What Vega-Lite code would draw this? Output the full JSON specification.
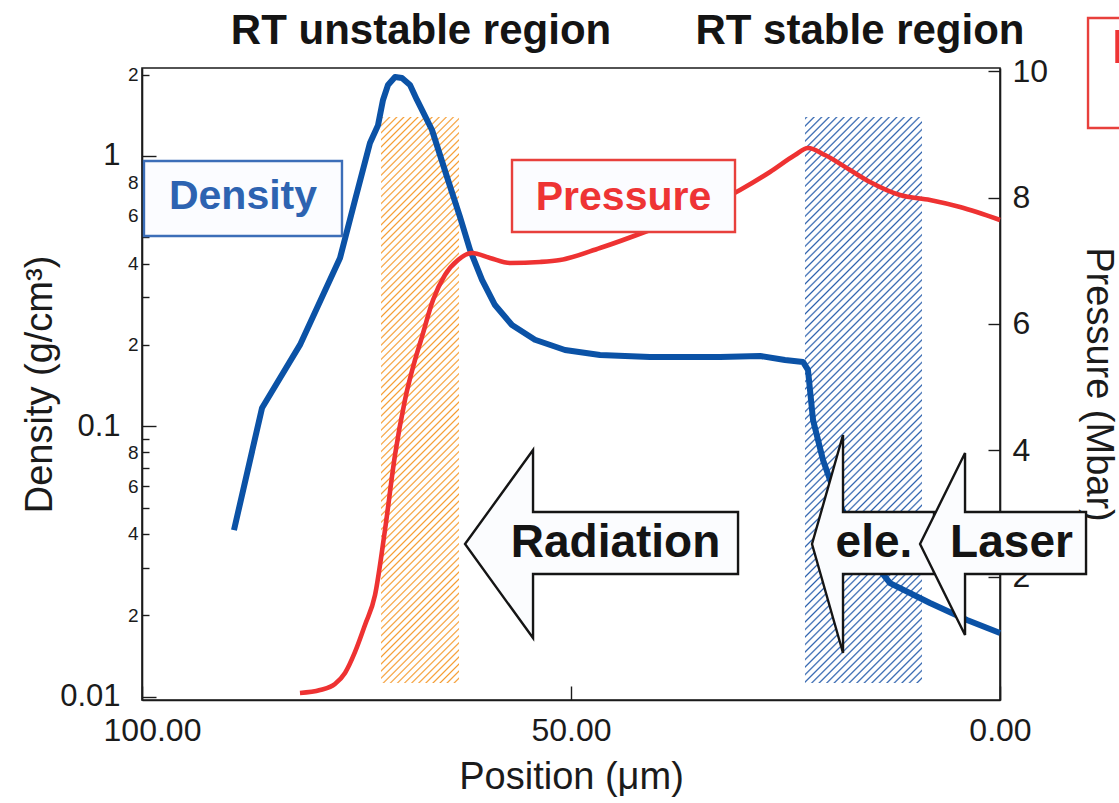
{
  "$schema": "https://vega.github.io/schema/vega-lite/v6.json",
  "width": 858,
  "height": 632,
  "autosize": "none",
  "padding": {"left": 142, "top": 68, "right": 119, "bottom": 103},
  "background": "#ffffff",
  "config": {
    "font": "Liberation Sans",
    "view": {"stroke": "#1b1b1b", "strokeWidth": 1.6},
    "axis": {
      "grid": false,
      "domainColor": "#1b1b1b",
      "domainWidth": 1.6,
      "tickColor": "#1b1b1b",
      "tickWidth": 1.4,
      "labelColor": "#1b1b1b",
      "titleColor": "#1b1b1b",
      "labelFont": "Liberation Sans",
      "titleFont": "Liberation Sans",
      "titleFontWeight": "normal",
      "titleFontSize": 38,
      "labelOverlap": false,
      "labelBound": false,
      "labelFlush": false
    },
    "text": {"font": "Liberation Sans"}
  },
  "resolve": {"scale": {"y": "independent"}},
  "layer": [
    {
      "layer": [
        {
          "data": {"values": [{"region": "RT unstable", "from": 72.14, "to": 63.05, "top": 1.394, "bottom": 0.01123}]},
          "mark": {
            "type": "rect",
            "fill": {
              "gradient": "linear", "x1": 0, "y1": 0, "x2": 0.15388, "y2": 1.11662,
              "stops": [
{"offset":0,"color":"#f59b2f00"},{"offset":0.0025,"color":"#f59b2f"},{"offset":0.005,"color":"#f59b2f00"},
{"offset":0.011,"color":"#f59b2f00"},{"offset":0.0135,"color":"#f59b2f"},{"offset":0.016,"color":"#f59b2f00"},
{"offset":0.022,"color":"#f59b2f00"},{"offset":0.0245,"color":"#f59b2f"},{"offset":0.027,"color":"#f59b2f00"},
{"offset":0.033,"color":"#f59b2f00"},{"offset":0.0355,"color":"#f59b2f"},{"offset":0.038,"color":"#f59b2f00"},
{"offset":0.044,"color":"#f59b2f00"},{"offset":0.0465,"color":"#f59b2f"},{"offset":0.049,"color":"#f59b2f00"},
{"offset":0.055,"color":"#f59b2f00"},{"offset":0.0575,"color":"#f59b2f"},{"offset":0.06,"color":"#f59b2f00"},
{"offset":0.066,"color":"#f59b2f00"},{"offset":0.0685,"color":"#f59b2f"},{"offset":0.071,"color":"#f59b2f00"},
{"offset":0.077,"color":"#f59b2f00"},{"offset":0.0795,"color":"#f59b2f"},{"offset":0.082,"color":"#f59b2f00"},
{"offset":0.088,"color":"#f59b2f00"},{"offset":0.0905,"color":"#f59b2f"},{"offset":0.093,"color":"#f59b2f00"},
{"offset":0.099,"color":"#f59b2f00"},{"offset":0.1015,"color":"#f59b2f"},{"offset":0.104,"color":"#f59b2f00"},
{"offset":0.11,"color":"#f59b2f00"},{"offset":0.1125,"color":"#f59b2f"},{"offset":0.115,"color":"#f59b2f00"},
{"offset":0.121,"color":"#f59b2f00"},{"offset":0.1235,"color":"#f59b2f"},{"offset":0.126,"color":"#f59b2f00"},
{"offset":0.132,"color":"#f59b2f00"},{"offset":0.1345,"color":"#f59b2f"},{"offset":0.137,"color":"#f59b2f00"},
{"offset":0.143,"color":"#f59b2f00"},{"offset":0.1455,"color":"#f59b2f"},{"offset":0.148,"color":"#f59b2f00"},
{"offset":0.154,"color":"#f59b2f00"},{"offset":0.1565,"color":"#f59b2f"},{"offset":0.159,"color":"#f59b2f00"},
{"offset":0.165,"color":"#f59b2f00"},{"offset":0.1675,"color":"#f59b2f"},{"offset":0.17,"color":"#f59b2f00"},
{"offset":0.176,"color":"#f59b2f00"},{"offset":0.1785,"color":"#f59b2f"},{"offset":0.181,"color":"#f59b2f00"},
{"offset":0.187,"color":"#f59b2f00"},{"offset":0.1895,"color":"#f59b2f"},{"offset":0.192,"color":"#f59b2f00"},
{"offset":0.198,"color":"#f59b2f00"},{"offset":0.2005,"color":"#f59b2f"},{"offset":0.203,"color":"#f59b2f00"},
{"offset":0.209,"color":"#f59b2f00"},{"offset":0.2115,"color":"#f59b2f"},{"offset":0.214,"color":"#f59b2f00"},
{"offset":0.22,"color":"#f59b2f00"},{"offset":0.2225,"color":"#f59b2f"},{"offset":0.225,"color":"#f59b2f00"},
{"offset":0.231,"color":"#f59b2f00"},{"offset":0.2335,"color":"#f59b2f"},{"offset":0.236,"color":"#f59b2f00"},
{"offset":0.242,"color":"#f59b2f00"},{"offset":0.2445,"color":"#f59b2f"},{"offset":0.247,"color":"#f59b2f00"},
{"offset":0.253,"color":"#f59b2f00"},{"offset":0.2555,"color":"#f59b2f"},{"offset":0.258,"color":"#f59b2f00"},
{"offset":0.264,"color":"#f59b2f00"},{"offset":0.2665,"color":"#f59b2f"},{"offset":0.269,"color":"#f59b2f00"},
{"offset":0.275,"color":"#f59b2f00"},{"offset":0.2775,"color":"#f59b2f"},{"offset":0.28,"color":"#f59b2f00"},
{"offset":0.286,"color":"#f59b2f00"},{"offset":0.2885,"color":"#f59b2f"},{"offset":0.291,"color":"#f59b2f00"},
{"offset":0.297,"color":"#f59b2f00"},{"offset":0.2995,"color":"#f59b2f"},{"offset":0.302,"color":"#f59b2f00"},
{"offset":0.308,"color":"#f59b2f00"},{"offset":0.3105,"color":"#f59b2f"},{"offset":0.313,"color":"#f59b2f00"},
{"offset":0.319,"color":"#f59b2f00"},{"offset":0.3215,"color":"#f59b2f"},{"offset":0.324,"color":"#f59b2f00"},
{"offset":0.33,"color":"#f59b2f00"},{"offset":0.3325,"color":"#f59b2f"},{"offset":0.335,"color":"#f59b2f00"},
{"offset":0.341,"color":"#f59b2f00"},{"offset":0.3435,"color":"#f59b2f"},{"offset":0.346,"color":"#f59b2f00"},
{"offset":0.352,"color":"#f59b2f00"},{"offset":0.3545,"color":"#f59b2f"},{"offset":0.357,"color":"#f59b2f00"},
{"offset":0.363,"color":"#f59b2f00"},{"offset":0.3655,"color":"#f59b2f"},{"offset":0.368,"color":"#f59b2f00"},
{"offset":0.374,"color":"#f59b2f00"},{"offset":0.3765,"color":"#f59b2f"},{"offset":0.379,"color":"#f59b2f00"},
{"offset":0.385,"color":"#f59b2f00"},{"offset":0.3875,"color":"#f59b2f"},{"offset":0.39,"color":"#f59b2f00"},
{"offset":0.396,"color":"#f59b2f00"},{"offset":0.3985,"color":"#f59b2f"},{"offset":0.401,"color":"#f59b2f00"},
{"offset":0.407,"color":"#f59b2f00"},{"offset":0.4095,"color":"#f59b2f"},{"offset":0.412,"color":"#f59b2f00"},
{"offset":0.418,"color":"#f59b2f00"},{"offset":0.4205,"color":"#f59b2f"},{"offset":0.423,"color":"#f59b2f00"},
{"offset":0.429,"color":"#f59b2f00"},{"offset":0.4315,"color":"#f59b2f"},{"offset":0.434,"color":"#f59b2f00"},
{"offset":0.44,"color":"#f59b2f00"},{"offset":0.4425,"color":"#f59b2f"},{"offset":0.445,"color":"#f59b2f00"},
{"offset":0.451,"color":"#f59b2f00"},{"offset":0.4535,"color":"#f59b2f"},{"offset":0.456,"color":"#f59b2f00"},
{"offset":0.462,"color":"#f59b2f00"},{"offset":0.4645,"color":"#f59b2f"},{"offset":0.467,"color":"#f59b2f00"},
{"offset":0.473,"color":"#f59b2f00"},{"offset":0.4755,"color":"#f59b2f"},{"offset":0.478,"color":"#f59b2f00"},
{"offset":0.484,"color":"#f59b2f00"},{"offset":0.4865,"color":"#f59b2f"},{"offset":0.489,"color":"#f59b2f00"},
{"offset":0.495,"color":"#f59b2f00"},{"offset":0.4975,"color":"#f59b2f"},{"offset":0.5,"color":"#f59b2f00"},
{"offset":0.506,"color":"#f59b2f00"},{"offset":0.5085,"color":"#f59b2f"},{"offset":0.511,"color":"#f59b2f00"},
{"offset":0.517,"color":"#f59b2f00"},{"offset":0.5195,"color":"#f59b2f"},{"offset":0.522,"color":"#f59b2f00"},
{"offset":0.528,"color":"#f59b2f00"},{"offset":0.5305,"color":"#f59b2f"},{"offset":0.533,"color":"#f59b2f00"},
{"offset":0.539,"color":"#f59b2f00"},{"offset":0.5415,"color":"#f59b2f"},{"offset":0.544,"color":"#f59b2f00"},
{"offset":0.55,"color":"#f59b2f00"},{"offset":0.5525,"color":"#f59b2f"},{"offset":0.555,"color":"#f59b2f00"},
{"offset":0.561,"color":"#f59b2f00"},{"offset":0.5635,"color":"#f59b2f"},{"offset":0.566,"color":"#f59b2f00"},
{"offset":0.572,"color":"#f59b2f00"},{"offset":0.5745,"color":"#f59b2f"},{"offset":0.577,"color":"#f59b2f00"},
{"offset":0.583,"color":"#f59b2f00"},{"offset":0.5855,"color":"#f59b2f"},{"offset":0.588,"color":"#f59b2f00"},
{"offset":0.594,"color":"#f59b2f00"},{"offset":0.5965,"color":"#f59b2f"},{"offset":0.599,"color":"#f59b2f00"},
{"offset":0.605,"color":"#f59b2f00"},{"offset":0.6075,"color":"#f59b2f"},{"offset":0.61,"color":"#f59b2f00"},
{"offset":0.616,"color":"#f59b2f00"},{"offset":0.6185,"color":"#f59b2f"},{"offset":0.621,"color":"#f59b2f00"},
{"offset":0.627,"color":"#f59b2f00"},{"offset":0.6295,"color":"#f59b2f"},{"offset":0.632,"color":"#f59b2f00"},
{"offset":0.638,"color":"#f59b2f00"},{"offset":0.6405,"color":"#f59b2f"},{"offset":0.643,"color":"#f59b2f00"},
{"offset":0.649,"color":"#f59b2f00"},{"offset":0.6515,"color":"#f59b2f"},{"offset":0.654,"color":"#f59b2f00"},
{"offset":0.66,"color":"#f59b2f00"},{"offset":0.6625,"color":"#f59b2f"},{"offset":0.665,"color":"#f59b2f00"},
{"offset":0.671,"color":"#f59b2f00"},{"offset":0.6735,"color":"#f59b2f"},{"offset":0.676,"color":"#f59b2f00"},
{"offset":0.682,"color":"#f59b2f00"},{"offset":0.6845,"color":"#f59b2f"},{"offset":0.687,"color":"#f59b2f00"},
{"offset":0.693,"color":"#f59b2f00"},{"offset":0.6955,"color":"#f59b2f"},{"offset":0.698,"color":"#f59b2f00"},
{"offset":0.704,"color":"#f59b2f00"},{"offset":0.7065,"color":"#f59b2f"},{"offset":0.709,"color":"#f59b2f00"},
{"offset":0.715,"color":"#f59b2f00"},{"offset":0.7175,"color":"#f59b2f"},{"offset":0.72,"color":"#f59b2f00"},
{"offset":0.726,"color":"#f59b2f00"},{"offset":0.7285,"color":"#f59b2f"},{"offset":0.731,"color":"#f59b2f00"},
{"offset":0.737,"color":"#f59b2f00"},{"offset":0.7395,"color":"#f59b2f"},{"offset":0.742,"color":"#f59b2f00"},
{"offset":0.748,"color":"#f59b2f00"},{"offset":0.7505,"color":"#f59b2f"},{"offset":0.753,"color":"#f59b2f00"},
{"offset":0.759,"color":"#f59b2f00"},{"offset":0.7615,"color":"#f59b2f"},{"offset":0.764,"color":"#f59b2f00"},
{"offset":0.77,"color":"#f59b2f00"},{"offset":0.7725,"color":"#f59b2f"},{"offset":0.775,"color":"#f59b2f00"},
{"offset":0.781,"color":"#f59b2f00"},{"offset":0.7835,"color":"#f59b2f"},{"offset":0.786,"color":"#f59b2f00"},
{"offset":0.792,"color":"#f59b2f00"},{"offset":0.7945,"color":"#f59b2f"},{"offset":0.797,"color":"#f59b2f00"},
{"offset":0.803,"color":"#f59b2f00"},{"offset":0.8055,"color":"#f59b2f"},{"offset":0.808,"color":"#f59b2f00"},
{"offset":0.814,"color":"#f59b2f00"},{"offset":0.8165,"color":"#f59b2f"},{"offset":0.819,"color":"#f59b2f00"},
{"offset":0.825,"color":"#f59b2f00"},{"offset":0.8275,"color":"#f59b2f"},{"offset":0.83,"color":"#f59b2f00"},
{"offset":0.836,"color":"#f59b2f00"},{"offset":0.8385,"color":"#f59b2f"},{"offset":0.841,"color":"#f59b2f00"},
{"offset":0.847,"color":"#f59b2f00"},{"offset":0.8495,"color":"#f59b2f"},{"offset":0.852,"color":"#f59b2f00"},
{"offset":0.858,"color":"#f59b2f00"},{"offset":0.8605,"color":"#f59b2f"},{"offset":0.863,"color":"#f59b2f00"},
{"offset":0.869,"color":"#f59b2f00"},{"offset":0.8715,"color":"#f59b2f"},{"offset":0.874,"color":"#f59b2f00"},
{"offset":0.88,"color":"#f59b2f00"},{"offset":0.8825,"color":"#f59b2f"},{"offset":0.885,"color":"#f59b2f00"},
{"offset":0.891,"color":"#f59b2f00"},{"offset":0.8935,"color":"#f59b2f"},{"offset":0.896,"color":"#f59b2f00"},
{"offset":0.902,"color":"#f59b2f00"},{"offset":0.9045,"color":"#f59b2f"},{"offset":0.907,"color":"#f59b2f00"},
{"offset":0.913,"color":"#f59b2f00"},{"offset":0.9155,"color":"#f59b2f"},{"offset":0.918,"color":"#f59b2f00"},
{"offset":0.924,"color":"#f59b2f00"},{"offset":0.9265,"color":"#f59b2f"},{"offset":0.929,"color":"#f59b2f00"},
{"offset":0.935,"color":"#f59b2f00"},{"offset":0.9375,"color":"#f59b2f"},{"offset":0.94,"color":"#f59b2f00"},
{"offset":0.946,"color":"#f59b2f00"},{"offset":0.9485,"color":"#f59b2f"},{"offset":0.951,"color":"#f59b2f00"},
{"offset":0.957,"color":"#f59b2f00"},{"offset":0.9595,"color":"#f59b2f"},{"offset":0.962,"color":"#f59b2f00"},
{"offset":0.968,"color":"#f59b2f00"},{"offset":0.9705,"color":"#f59b2f"},{"offset":0.973,"color":"#f59b2f00"},
{"offset":0.979,"color":"#f59b2f00"},{"offset":0.9815,"color":"#f59b2f"},{"offset":0.984,"color":"#f59b2f00"},
{"offset":0.99,"color":"#f59b2f00"},{"offset":0.9925,"color":"#f59b2f"},{"offset":0.995,"color":"#f59b2f00"}
              ]
            }
          },
          "encoding": {
            "x": {"field": "from", "type": "quantitative", "scale": {"domain": [0, 100], "reverse": true, "nice": false, "zero": false}},
            "x2": {"field": "to"},
            "y": {"field": "top", "type": "quantitative", "scale": {"type": "log", "domain": [0.009714, 2.116], "nice": false}},
            "y2": {"field": "bottom"}
          }
        },
        {
          "data": {"values": [{"region": "RT stable", "from": 22.73, "to": 9.09, "top": 1.394, "bottom": 0.01123}]},
          "mark": {
            "type": "rect",
            "fill": {
              "gradient": "linear", "x1": 0, "y1": 0, "x2": 0.23923, "y2": 1.15731,
              "stops": [
{"offset":0,"color":"#2b60ad00"},{"offset":0.0025,"color":"#2b60ad"},{"offset":0.005,"color":"#2b60ad00"},
{"offset":0.011,"color":"#2b60ad00"},{"offset":0.0135,"color":"#2b60ad"},{"offset":0.016,"color":"#2b60ad00"},
{"offset":0.022,"color":"#2b60ad00"},{"offset":0.0245,"color":"#2b60ad"},{"offset":0.027,"color":"#2b60ad00"},
{"offset":0.033,"color":"#2b60ad00"},{"offset":0.0355,"color":"#2b60ad"},{"offset":0.038,"color":"#2b60ad00"},
{"offset":0.044,"color":"#2b60ad00"},{"offset":0.0465,"color":"#2b60ad"},{"offset":0.049,"color":"#2b60ad00"},
{"offset":0.055,"color":"#2b60ad00"},{"offset":0.0575,"color":"#2b60ad"},{"offset":0.06,"color":"#2b60ad00"},
{"offset":0.066,"color":"#2b60ad00"},{"offset":0.0685,"color":"#2b60ad"},{"offset":0.071,"color":"#2b60ad00"},
{"offset":0.077,"color":"#2b60ad00"},{"offset":0.0795,"color":"#2b60ad"},{"offset":0.082,"color":"#2b60ad00"},
{"offset":0.088,"color":"#2b60ad00"},{"offset":0.0905,"color":"#2b60ad"},{"offset":0.093,"color":"#2b60ad00"},
{"offset":0.099,"color":"#2b60ad00"},{"offset":0.1015,"color":"#2b60ad"},{"offset":0.104,"color":"#2b60ad00"},
{"offset":0.11,"color":"#2b60ad00"},{"offset":0.1125,"color":"#2b60ad"},{"offset":0.115,"color":"#2b60ad00"},
{"offset":0.121,"color":"#2b60ad00"},{"offset":0.1235,"color":"#2b60ad"},{"offset":0.126,"color":"#2b60ad00"},
{"offset":0.132,"color":"#2b60ad00"},{"offset":0.1345,"color":"#2b60ad"},{"offset":0.137,"color":"#2b60ad00"},
{"offset":0.143,"color":"#2b60ad00"},{"offset":0.1455,"color":"#2b60ad"},{"offset":0.148,"color":"#2b60ad00"},
{"offset":0.154,"color":"#2b60ad00"},{"offset":0.1565,"color":"#2b60ad"},{"offset":0.159,"color":"#2b60ad00"},
{"offset":0.165,"color":"#2b60ad00"},{"offset":0.1675,"color":"#2b60ad"},{"offset":0.17,"color":"#2b60ad00"},
{"offset":0.176,"color":"#2b60ad00"},{"offset":0.1785,"color":"#2b60ad"},{"offset":0.181,"color":"#2b60ad00"},
{"offset":0.187,"color":"#2b60ad00"},{"offset":0.1895,"color":"#2b60ad"},{"offset":0.192,"color":"#2b60ad00"},
{"offset":0.198,"color":"#2b60ad00"},{"offset":0.2005,"color":"#2b60ad"},{"offset":0.203,"color":"#2b60ad00"},
{"offset":0.209,"color":"#2b60ad00"},{"offset":0.2115,"color":"#2b60ad"},{"offset":0.214,"color":"#2b60ad00"},
{"offset":0.22,"color":"#2b60ad00"},{"offset":0.2225,"color":"#2b60ad"},{"offset":0.225,"color":"#2b60ad00"},
{"offset":0.231,"color":"#2b60ad00"},{"offset":0.2335,"color":"#2b60ad"},{"offset":0.236,"color":"#2b60ad00"},
{"offset":0.242,"color":"#2b60ad00"},{"offset":0.2445,"color":"#2b60ad"},{"offset":0.247,"color":"#2b60ad00"},
{"offset":0.253,"color":"#2b60ad00"},{"offset":0.2555,"color":"#2b60ad"},{"offset":0.258,"color":"#2b60ad00"},
{"offset":0.264,"color":"#2b60ad00"},{"offset":0.2665,"color":"#2b60ad"},{"offset":0.269,"color":"#2b60ad00"},
{"offset":0.275,"color":"#2b60ad00"},{"offset":0.2775,"color":"#2b60ad"},{"offset":0.28,"color":"#2b60ad00"},
{"offset":0.286,"color":"#2b60ad00"},{"offset":0.2885,"color":"#2b60ad"},{"offset":0.291,"color":"#2b60ad00"},
{"offset":0.297,"color":"#2b60ad00"},{"offset":0.2995,"color":"#2b60ad"},{"offset":0.302,"color":"#2b60ad00"},
{"offset":0.308,"color":"#2b60ad00"},{"offset":0.3105,"color":"#2b60ad"},{"offset":0.313,"color":"#2b60ad00"},
{"offset":0.319,"color":"#2b60ad00"},{"offset":0.3215,"color":"#2b60ad"},{"offset":0.324,"color":"#2b60ad00"},
{"offset":0.33,"color":"#2b60ad00"},{"offset":0.3325,"color":"#2b60ad"},{"offset":0.335,"color":"#2b60ad00"},
{"offset":0.341,"color":"#2b60ad00"},{"offset":0.3435,"color":"#2b60ad"},{"offset":0.346,"color":"#2b60ad00"},
{"offset":0.352,"color":"#2b60ad00"},{"offset":0.3545,"color":"#2b60ad"},{"offset":0.357,"color":"#2b60ad00"},
{"offset":0.363,"color":"#2b60ad00"},{"offset":0.3655,"color":"#2b60ad"},{"offset":0.368,"color":"#2b60ad00"},
{"offset":0.374,"color":"#2b60ad00"},{"offset":0.3765,"color":"#2b60ad"},{"offset":0.379,"color":"#2b60ad00"},
{"offset":0.385,"color":"#2b60ad00"},{"offset":0.3875,"color":"#2b60ad"},{"offset":0.39,"color":"#2b60ad00"},
{"offset":0.396,"color":"#2b60ad00"},{"offset":0.3985,"color":"#2b60ad"},{"offset":0.401,"color":"#2b60ad00"},
{"offset":0.407,"color":"#2b60ad00"},{"offset":0.4095,"color":"#2b60ad"},{"offset":0.412,"color":"#2b60ad00"},
{"offset":0.418,"color":"#2b60ad00"},{"offset":0.4205,"color":"#2b60ad"},{"offset":0.423,"color":"#2b60ad00"},
{"offset":0.429,"color":"#2b60ad00"},{"offset":0.4315,"color":"#2b60ad"},{"offset":0.434,"color":"#2b60ad00"},
{"offset":0.44,"color":"#2b60ad00"},{"offset":0.4425,"color":"#2b60ad"},{"offset":0.445,"color":"#2b60ad00"},
{"offset":0.451,"color":"#2b60ad00"},{"offset":0.4535,"color":"#2b60ad"},{"offset":0.456,"color":"#2b60ad00"},
{"offset":0.462,"color":"#2b60ad00"},{"offset":0.4645,"color":"#2b60ad"},{"offset":0.467,"color":"#2b60ad00"},
{"offset":0.473,"color":"#2b60ad00"},{"offset":0.4755,"color":"#2b60ad"},{"offset":0.478,"color":"#2b60ad00"},
{"offset":0.484,"color":"#2b60ad00"},{"offset":0.4865,"color":"#2b60ad"},{"offset":0.489,"color":"#2b60ad00"},
{"offset":0.495,"color":"#2b60ad00"},{"offset":0.4975,"color":"#2b60ad"},{"offset":0.5,"color":"#2b60ad00"},
{"offset":0.506,"color":"#2b60ad00"},{"offset":0.5085,"color":"#2b60ad"},{"offset":0.511,"color":"#2b60ad00"},
{"offset":0.517,"color":"#2b60ad00"},{"offset":0.5195,"color":"#2b60ad"},{"offset":0.522,"color":"#2b60ad00"},
{"offset":0.528,"color":"#2b60ad00"},{"offset":0.5305,"color":"#2b60ad"},{"offset":0.533,"color":"#2b60ad00"},
{"offset":0.539,"color":"#2b60ad00"},{"offset":0.5415,"color":"#2b60ad"},{"offset":0.544,"color":"#2b60ad00"},
{"offset":0.55,"color":"#2b60ad00"},{"offset":0.5525,"color":"#2b60ad"},{"offset":0.555,"color":"#2b60ad00"},
{"offset":0.561,"color":"#2b60ad00"},{"offset":0.5635,"color":"#2b60ad"},{"offset":0.566,"color":"#2b60ad00"},
{"offset":0.572,"color":"#2b60ad00"},{"offset":0.5745,"color":"#2b60ad"},{"offset":0.577,"color":"#2b60ad00"},
{"offset":0.583,"color":"#2b60ad00"},{"offset":0.5855,"color":"#2b60ad"},{"offset":0.588,"color":"#2b60ad00"},
{"offset":0.594,"color":"#2b60ad00"},{"offset":0.5965,"color":"#2b60ad"},{"offset":0.599,"color":"#2b60ad00"},
{"offset":0.605,"color":"#2b60ad00"},{"offset":0.6075,"color":"#2b60ad"},{"offset":0.61,"color":"#2b60ad00"},
{"offset":0.616,"color":"#2b60ad00"},{"offset":0.6185,"color":"#2b60ad"},{"offset":0.621,"color":"#2b60ad00"},
{"offset":0.627,"color":"#2b60ad00"},{"offset":0.6295,"color":"#2b60ad"},{"offset":0.632,"color":"#2b60ad00"},
{"offset":0.638,"color":"#2b60ad00"},{"offset":0.6405,"color":"#2b60ad"},{"offset":0.643,"color":"#2b60ad00"},
{"offset":0.649,"color":"#2b60ad00"},{"offset":0.6515,"color":"#2b60ad"},{"offset":0.654,"color":"#2b60ad00"},
{"offset":0.66,"color":"#2b60ad00"},{"offset":0.6625,"color":"#2b60ad"},{"offset":0.665,"color":"#2b60ad00"},
{"offset":0.671,"color":"#2b60ad00"},{"offset":0.6735,"color":"#2b60ad"},{"offset":0.676,"color":"#2b60ad00"},
{"offset":0.682,"color":"#2b60ad00"},{"offset":0.6845,"color":"#2b60ad"},{"offset":0.687,"color":"#2b60ad00"},
{"offset":0.693,"color":"#2b60ad00"},{"offset":0.6955,"color":"#2b60ad"},{"offset":0.698,"color":"#2b60ad00"},
{"offset":0.704,"color":"#2b60ad00"},{"offset":0.7065,"color":"#2b60ad"},{"offset":0.709,"color":"#2b60ad00"},
{"offset":0.715,"color":"#2b60ad00"},{"offset":0.7175,"color":"#2b60ad"},{"offset":0.72,"color":"#2b60ad00"},
{"offset":0.726,"color":"#2b60ad00"},{"offset":0.7285,"color":"#2b60ad"},{"offset":0.731,"color":"#2b60ad00"},
{"offset":0.737,"color":"#2b60ad00"},{"offset":0.7395,"color":"#2b60ad"},{"offset":0.742,"color":"#2b60ad00"},
{"offset":0.748,"color":"#2b60ad00"},{"offset":0.7505,"color":"#2b60ad"},{"offset":0.753,"color":"#2b60ad00"},
{"offset":0.759,"color":"#2b60ad00"},{"offset":0.7615,"color":"#2b60ad"},{"offset":0.764,"color":"#2b60ad00"},
{"offset":0.77,"color":"#2b60ad00"},{"offset":0.7725,"color":"#2b60ad"},{"offset":0.775,"color":"#2b60ad00"},
{"offset":0.781,"color":"#2b60ad00"},{"offset":0.7835,"color":"#2b60ad"},{"offset":0.786,"color":"#2b60ad00"},
{"offset":0.792,"color":"#2b60ad00"},{"offset":0.7945,"color":"#2b60ad"},{"offset":0.797,"color":"#2b60ad00"},
{"offset":0.803,"color":"#2b60ad00"},{"offset":0.8055,"color":"#2b60ad"},{"offset":0.808,"color":"#2b60ad00"},
{"offset":0.814,"color":"#2b60ad00"},{"offset":0.8165,"color":"#2b60ad"},{"offset":0.819,"color":"#2b60ad00"},
{"offset":0.825,"color":"#2b60ad00"},{"offset":0.8275,"color":"#2b60ad"},{"offset":0.83,"color":"#2b60ad00"},
{"offset":0.836,"color":"#2b60ad00"},{"offset":0.8385,"color":"#2b60ad"},{"offset":0.841,"color":"#2b60ad00"},
{"offset":0.847,"color":"#2b60ad00"},{"offset":0.8495,"color":"#2b60ad"},{"offset":0.852,"color":"#2b60ad00"},
{"offset":0.858,"color":"#2b60ad00"},{"offset":0.8605,"color":"#2b60ad"},{"offset":0.863,"color":"#2b60ad00"},
{"offset":0.869,"color":"#2b60ad00"},{"offset":0.8715,"color":"#2b60ad"},{"offset":0.874,"color":"#2b60ad00"},
{"offset":0.88,"color":"#2b60ad00"},{"offset":0.8825,"color":"#2b60ad"},{"offset":0.885,"color":"#2b60ad00"},
{"offset":0.891,"color":"#2b60ad00"},{"offset":0.8935,"color":"#2b60ad"},{"offset":0.896,"color":"#2b60ad00"},
{"offset":0.902,"color":"#2b60ad00"},{"offset":0.9045,"color":"#2b60ad"},{"offset":0.907,"color":"#2b60ad00"},
{"offset":0.913,"color":"#2b60ad00"},{"offset":0.9155,"color":"#2b60ad"},{"offset":0.918,"color":"#2b60ad00"},
{"offset":0.924,"color":"#2b60ad00"},{"offset":0.9265,"color":"#2b60ad"},{"offset":0.929,"color":"#2b60ad00"},
{"offset":0.935,"color":"#2b60ad00"},{"offset":0.9375,"color":"#2b60ad"},{"offset":0.94,"color":"#2b60ad00"},
{"offset":0.946,"color":"#2b60ad00"},{"offset":0.9485,"color":"#2b60ad"},{"offset":0.951,"color":"#2b60ad00"},
{"offset":0.957,"color":"#2b60ad00"},{"offset":0.9595,"color":"#2b60ad"},{"offset":0.962,"color":"#2b60ad00"},
{"offset":0.968,"color":"#2b60ad00"},{"offset":0.9705,"color":"#2b60ad"},{"offset":0.973,"color":"#2b60ad00"},
{"offset":0.979,"color":"#2b60ad00"},{"offset":0.9815,"color":"#2b60ad"},{"offset":0.984,"color":"#2b60ad00"},
{"offset":0.99,"color":"#2b60ad00"},{"offset":0.9925,"color":"#2b60ad"},{"offset":0.995,"color":"#2b60ad00"}
              ]
            }
          },
          "encoding": {
            "x": {"field": "from", "type": "quantitative", "scale": {"domain": [0, 100], "reverse": true, "nice": false, "zero": false}},
            "x2": {"field": "to"},
            "y": {"field": "top", "type": "quantitative", "scale": {"type": "log", "domain": [0.009714, 2.116], "nice": false}},
            "y2": {"field": "bottom"}
          }
        },
        {
          "data": {"values": [
            {"pos": 89.28, "d": 0.0413}, {"pos": 86.01, "d": 0.1169}, {"pos": 81.59, "d": 0.2},
            {"pos": 76.92, "d": 0.4195}, {"pos": 75.17, "d": 0.6874}, {"pos": 73.43, "d": 1.117},
            {"pos": 72.49, "d": 1.3}, {"pos": 71.91, "d": 1.612}, {"pos": 71.33, "d": 1.831},
            {"pos": 70.51, "d": 1.96}, {"pos": 69.7, "d": 1.943}, {"pos": 68.76, "d": 1.831},
            {"pos": 67.95, "d": 1.612}, {"pos": 66.2, "d": 1.248}, {"pos": 64.45, "d": 0.836},
            {"pos": 62.94, "d": 0.595}, {"pos": 61.77, "d": 0.449}, {"pos": 60.37, "d": 0.348},
            {"pos": 58.86, "d": 0.281}, {"pos": 56.88, "d": 0.237}, {"pos": 54.2, "d": 0.209},
            {"pos": 50.7, "d": 0.1915}, {"pos": 46.62, "d": 0.1836}, {"pos": 40.79, "d": 0.1805},
            {"pos": 32.63, "d": 0.1805}, {"pos": 27.97, "d": 0.182}, {"pos": 25.06, "d": 0.176},
            {"pos": 22.96, "d": 0.173}, {"pos": 22.38, "d": 0.1616}, {"pos": 21.79, "d": 0.1055},
            {"pos": 20.63, "d": 0.075}, {"pos": 19.81, "d": 0.0633}, {"pos": 18.65, "d": 0.0512},
            {"pos": 16.32, "d": 0.0364}, {"pos": 12.82, "d": 0.0263}, {"pos": 8.16, "d": 0.0222},
            {"pos": 3.85, "d": 0.0192}, {"pos": 0, "d": 0.0172}
          ]},
          "mark": {"type": "line", "color": "#0b52a6", "strokeWidth": 6, "strokeJoin": "round", "interpolate": "linear"},
          "encoding": {
            "x": {
              "field": "pos", "type": "quantitative",
              "scale": {"domain": [0, 100], "reverse": true, "nice": false, "zero": false},
              "axis": {
                "orient": "bottom", "values": [0, 50, 100], "format": ".2f",
                "tickSize": -14, "labelPadding": 29, "labelFontSize": 32,
                "labelOffset": {"condition": {"test": "datum.value === 100", "value": 10}, "value": 0},
                "title": "Position (μm)", "titlePadding": 12
              }
            },
            "y": {
              "field": "d", "type": "quantitative",
              "scale": {"type": "log", "domain": [0.009714, 2.116], "nice": false},
              "axis": {
                "orient": "left", "title": "Density (g/cm³)", "titlePadding": 0,
                "values": [0.01, 0.02, 0.03, 0.04, 0.05, 0.06, 0.07, 0.08, 0.09, 0.1, 0.2, 0.3, 0.4, 0.5, 0.6, 0.7, 0.8, 0.9, 1, 2],
                "labelExpr": "datum.value === 1 ? '1' : datum.value === 0.1 ? '0.1' : datum.value === 0.01 ? '0.01' : (datum.value === 2 || datum.value === 0.2 || datum.value === 0.02) ? '2' : (datum.value === 0.4 || datum.value === 0.04) ? '4' : (datum.value === 0.6 || datum.value === 0.06) ? '6' : (datum.value === 0.8 || datum.value === 0.08) ? '8' : ''",
                "tickSize": {"condition": {"test": "datum.value === 1 || datum.value === 0.1 || datum.value === 0.01", "value": -14}, "value": -7},
                "labelPadding": {"condition": {"test": "datum.value === 1 || datum.value === 0.1 || datum.value === 0.01", "value": 36}, "value": 11},
                "labelFontSize": {"condition": {"test": "datum.value === 1 || datum.value === 0.1 || datum.value === 0.01", "value": 31}, "value": 19}
              }
            }
          }
        }
      ]
    },
    {
      "resolve": {"scale": {"shape": "independent", "stroke": "independent", "color": "independent"}},
      "layer": [
        {
          "data": {"values": [
            {"pos": 81.59, "p": 0.161}, {"pos": 79.25, "p": 0.208}, {"pos": 77.51, "p": 0.303},
            {"pos": 76.34, "p": 0.477}, {"pos": 75.17, "p": 0.81}, {"pos": 74.01, "p": 1.237},
            {"pos": 72.84, "p": 1.711}, {"pos": 71.68, "p": 2.74}, {"pos": 70.51, "p": 3.927},
            {"pos": 69.35, "p": 4.797}, {"pos": 68.18, "p": 5.43}, {"pos": 67.48, "p": 5.746},
            {"pos": 66.08, "p": 6.379}, {"pos": 64.69, "p": 6.775}, {"pos": 63.17, "p": 7.012},
            {"pos": 61.54, "p": 7.123}, {"pos": 59.44, "p": 7.044}, {"pos": 57.11, "p": 6.965},
            {"pos": 53.61, "p": 6.981}, {"pos": 51.28, "p": 7.012}, {"pos": 46.62, "p": 7.202},
            {"pos": 40.79, "p": 7.487}, {"pos": 34.97, "p": 7.803}, {"pos": 30.3, "p": 8.12},
            {"pos": 26.81, "p": 8.404}, {"pos": 23.89, "p": 8.673}, {"pos": 22.38, "p": 8.784},
            {"pos": 20.4, "p": 8.673}, {"pos": 17.48, "p": 8.436}, {"pos": 15.15, "p": 8.246},
            {"pos": 11.66, "p": 8.04}, {"pos": 8.16, "p": 7.961}, {"pos": 4.66, "p": 7.85},
            {"pos": 0, "p": 7.645}
          ]},
          "mark": {"type": "line", "color": "#ee3232", "strokeWidth": 4.6, "strokeJoin": "round", "interpolate": "monotone"},
          "encoding": {
            "x": {"field": "pos", "type": "quantitative", "scale": {"domain": [0, 100], "reverse": true, "nice": false, "zero": false}},
            "y": {
              "field": "p", "type": "quantitative",
              "scale": {"domain": [0.05, 10.05], "nice": false, "zero": false},
              "axis": {
                "orient": "right", "values": [2, 4, 6, 8, 10], "format": "d",
                "tickSize": -12, "labelPadding": 24, "labelFontSize": 32,
                "title": "Pressure (Mbar)", "titlePadding": 31
              }
            }
          }
        },
        {
          "data": {"values": [
            {"label": "Density", "pos": 88.23, "p": 7.985, "tp": 7.819},
            {"label": "Pressure", "pos": 43.88, "p": 8.025, "tp": 7.803}
          ]},
          "layer": [
            {
              "mark": {"type": "point", "filled": true, "opacity": 1, "size": 40000, "fill": "#fbfcff", "strokeWidth": 2.4, "strokeJoin": "miter"},
              "encoding": {
                "x": {"field": "pos", "type": "quantitative", "scale": {"domain": [0, 100], "reverse": true, "nice": false, "zero": false}},
                "y": {"field": "p", "type": "quantitative", "scale": {"domain": [0.05, 10.05], "nice": false, "zero": false}},
                "shape": {"field": "label", "type": "nominal", "scale": {"domain": ["Density", "Pressure"], "range": ["M-0.99,-0.375H0.99V0.375H-0.99Z", "M-1.115,-0.36H1.115V0.36H-1.115Z"]}, "legend": null},
                "stroke": {"field": "label", "type": "nominal", "scale": {"domain": ["Density", "Pressure"], "range": ["#3c6eb8", "#e8403c"]}, "legend": null}
              }
            },
            {
              "mark": {"type": "text", "fontSize": 41, "fontWeight": "bold", "align": "center", "baseline": "alphabetic"},
              "encoding": {
                "x": {"field": "pos", "type": "quantitative", "scale": {"domain": [0, 100], "reverse": true, "nice": false, "zero": false}},
                "y": {"field": "tp", "type": "quantitative", "scale": {"domain": [0.05, 10.05], "nice": false, "zero": false}},
                "text": {"field": "label"},
                "color": {"field": "label", "type": "nominal", "scale": {"domain": ["Density", "Pressure"], "range": ["#2d63b1", "#ee3434"]}, "legend": null}
              }
            }
          ]
        },
        {
          "data": {"values": [
            {"label": "Radiation", "tip": 62.35, "mid": 44.81, "p": 2.518, "tp": 2.313},
            {"label": "ele.", "tip": 21.91, "mid": 14.69, "p": 2.518, "tp": 2.313},
            {"label": "Laser", "tip": 9.32, "mid": -1.34, "p": 2.518, "tp": 2.313}
          ]},
          "layer": [
            {
              "mark": {"type": "point", "filled": true, "opacity": 1, "size": 40000, "fill": "#fbfcfe", "stroke": "#151515", "strokeWidth": 2.4, "strokeJoin": "miter"},
              "encoding": {
                "x": {"field": "tip", "type": "quantitative", "scale": {"domain": [0, 100], "reverse": true, "nice": false, "zero": false}},
                "y": {"field": "p", "type": "quantitative", "scale": {"domain": [0.05, 10.05], "nice": false, "zero": false}},
                "shape": {"field": "label", "type": "nominal", "scale": {"domain": ["Radiation", "ele.", "Laser"], "range": [
                  "M0,0L0.68,-0.94L0.68,-0.32L2.73,-0.32L2.73,0.3L0.68,0.3L0.68,0.94Z",
                  "M0,0L0.31,-1.09L0.31,-0.32L1.22,-0.32L1.22,0.3L0.31,0.3L0.31,1.09Z",
                  "M0,0L0.45,-0.91L0.45,-0.32L1.66,-0.32L1.66,0.3L0.45,0.3L0.45,0.91Z"
                ]}, "legend": null}
              }
            },
            {
              "mark": {"type": "text", "fontSize": 46, "fontWeight": "bold", "align": "center", "baseline": "alphabetic", "color": "#141414"},
              "encoding": {
                "x": {"field": "mid", "type": "quantitative", "scale": {"domain": [0, 100], "reverse": true, "nice": false, "zero": false}},
                "y": {"field": "tp", "type": "quantitative", "scale": {"domain": [0.05, 10.05], "nice": false, "zero": false}},
                "text": {"field": "label"}
              }
            }
          ]
        },
        {
          "data": {"values": [
            {"label": "RT unstable region", "pos": 67.48, "p": 10.43},
            {"label": "RT stable region", "pos": 16.32, "p": 10.43}
          ]},
          "mark": {"type": "text", "fontSize": 42, "fontWeight": "bold", "align": "center", "baseline": "alphabetic", "color": "#141414"},
          "encoding": {
            "x": {"field": "pos", "type": "quantitative", "scale": {"domain": [0, 100], "reverse": true, "nice": false, "zero": false}},
            "y": {"field": "p", "type": "quantitative", "scale": {"domain": [0.05, 10.05], "nice": false, "zero": false}},
            "text": {"field": "label"}
          }
        },
        {
          "data": {"values": [{"label": "Pressure", "pos": -10.26, "p": 9.97, "tx": -13.05, "tp": 10.129}]},
          "layer": [
            {
              "mark": {"type": "point", "filled": true, "opacity": 1, "size": 40000, "fill": "#ffffff", "stroke": "#e8403c", "strokeWidth": 2.4, "shape": "M0,-0.55H2.6V0.55H0Z"},
              "encoding": {
                "x": {"field": "pos", "type": "quantitative", "scale": {"domain": [0, 100], "reverse": true, "nice": false, "zero": false}},
                "y": {"field": "p", "type": "quantitative", "scale": {"domain": [0.05, 10.05], "nice": false, "zero": false}}
              }
            },
            {
              "mark": {"type": "text", "fontSize": 49, "fontWeight": "bold", "align": "left", "baseline": "alphabetic", "color": "#ee3434"},
              "encoding": {
                "x": {"field": "tx", "type": "quantitative", "scale": {"domain": [0, 100], "reverse": true, "nice": false, "zero": false}},
                "y": {"field": "tp", "type": "quantitative", "scale": {"domain": [0.05, 10.05], "nice": false, "zero": false}},
                "text": {"field": "label"}
              }
            }
          ]
        }
      ]
    }
  ]
}
